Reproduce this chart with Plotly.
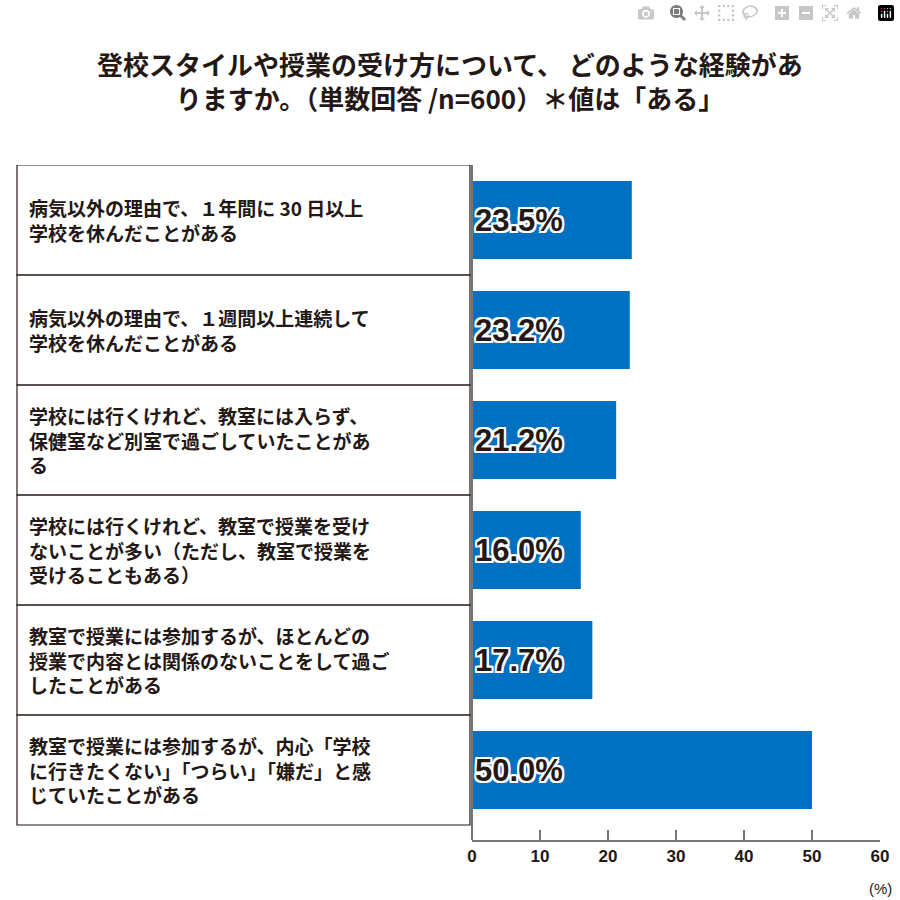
import plotly.graph_objects as go

categories = [
    "病気以外の理由で、１年間に 30 日以上<br>学校を休んだことがある",
    "病気以外の理由で、１週間以上連続して<br>学校を休んだことがある",
    "学校には行くけれど、教室には入らず、<br>保健室など別室で過ごしていたことがあ<br>る",
    "学校には行くけれど、教室で授業を受け<br>ないことが多い（ただし、教室で授業を<br>受けることもある）",
    "教室で授業には参加するが、ほとんどの<br>授業で内容とは関係のないことをして過ご<br>したことがある",
    "教室で授業には参加するが、内心「学校<br>に行きたくない」「つらい」「嫌だ」と感<br>じていたことがある",
]
values = [23.5, 23.2, 21.2, 16.0, 17.7, 50.0]
tick_vals = [0, 10, 20, 30, 40, 50, 60]

L, R, T, B = 472, 20, 165, 60
W = 900 - L - R
def px(x):
    return (x - L) / W

ys = list(range(len(values)))
fig = go.Figure(go.Bar(
    x=values, y=ys, orientation="h", width=0.71,
    marker=dict(color="#0070C0", line=dict(width=0)),
    text=[f"{v:.1f}%" for v in values], textposition="inside",
    insidetextanchor="start",
    textfont=dict(family="Liberation Sans", size=31, color="#231815", weight="bold",
                  shadow="2px 2px 0 white, -2px -2px 0 white, 2px -2px 0 white, -2px 2px 0 white, 0 2px 0 white, 0 -2px 0 white, 2px 0 0 white, -2px 0 0 white"),
    cliponaxis=False,
))

shapes = []
anns = []
for i, c in enumerate(categories):
    shapes.append(dict(type="rect", xref="paper", yref="y", x0=px(17), x1=px(470),
                       y0=i - 0.5, y1=i + 0.5, line=dict(color="#231815", width=1.2)))
    anns.append(dict(xref="paper", yref="y", x=px(27), y=i, xanchor="left", yanchor="middle",
                     text=c, showarrow=False, align="left",
                     font=dict(family="Noto Sans CJK JP", size=19, color="#231815", weight="bold")))
shapes.append(dict(type="line", xref="paper", yref="paper", x0=0, x1=0, y0=0, y1=1,
                   line=dict(color="#777777", width=2)))
anns.append(dict(xref="paper", yref="paper", x=1, y=0, yshift=-38, xanchor="center", yanchor="top",
                 text="(%)", showarrow=False, font=dict(family="Liberation Sans", size=15, color="#231815")))
anns.append(dict(xref="paper", yref="paper", x=px(450), y=1, yshift=122, xanchor="center", yanchor="top",
                 text="登校スタイルや授業の受け方について、 どのような経験があ<br>りますか。（単数回答 /n=600）＊値は「ある」",
                 showarrow=False, align="center",
                 font=dict(family="Noto Sans CJK JP", size=26, color="#231815", weight="bold")))

fig.update_layout(
    width=900, height=900, margin=dict(l=L, r=R, t=T, b=B),
    plot_bgcolor="white", paper_bgcolor="white", showlegend=False,
    shapes=shapes, annotations=anns,
    xaxis=dict(range=[0, 60], tickvals=tick_vals, ticks="inside", ticklen=10, tickwidth=2,
               tickcolor="#777777", showline=True, linecolor="#777777", linewidth=2,
               showgrid=False, zeroline=False,
               tickfont=dict(family="Liberation Sans", size=17, color="#231815", weight="bold")),
    yaxis=dict(range=[5.5 + 15 / 110, -0.5], showticklabels=False, showgrid=False,
               zeroline=False, showline=False),
)
fig.write_html("out.html", post_script="document.body.style.margin='0';document.body.style.overflow='hidden';")
